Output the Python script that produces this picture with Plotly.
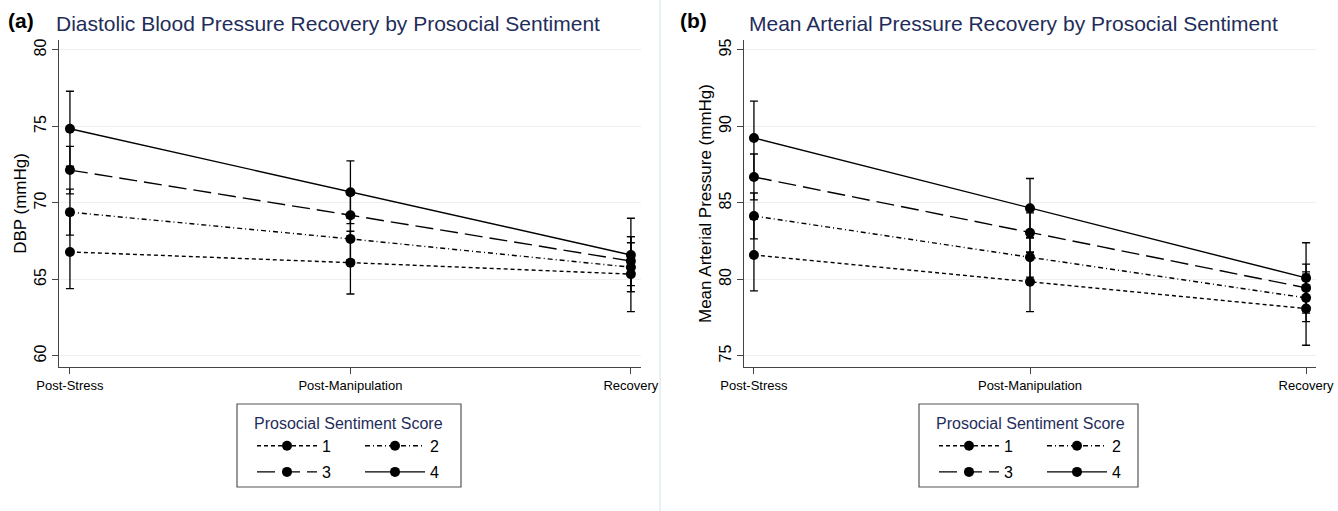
import plotly.graph_objects as go

# ---------------- data ----------------
categories = ["Post-Stress", "Post-Manipulation", "Recovery"]
scores = ["1", "2", "3", "4"]

# Panel (a): Diastolic blood pressure (mmHg)
dbp_s1 = [66.8, 66.1, 65.35]
dbp_s2 = [69.4, 67.65, 65.8]
dbp_s3 = [72.15, 69.2, 66.2]
dbp_s4 = [74.85, 70.7, 66.6]
dbp_ci_s1 = [2.4, 2.05, 2.45]
dbp_ci_s2 = [1.5, 1.35, 1.6]
dbp_ci_s3 = [1.55, 1.35, 1.6]
dbp_ci_s4 = [2.45, 2.05, 2.4]

# Panel (b): Mean arterial pressure (mmHg)
map_s1 = [81.6, 79.85, 78.1]
map_s2 = [84.15, 81.45, 78.8]
map_s3 = [86.7, 83.05, 79.45]
map_s4 = [89.25, 84.65, 80.1]
map_ci_s1 = [2.35, 1.95, 2.4]
map_ci_s2 = [1.5, 1.3, 1.55]
map_ci_s3 = [1.5, 1.3, 1.55]
map_ci_s4 = [2.4, 1.95, 2.3]

dbp_ticks = [60, 65, 70, 75, 80]
map_ticks = [75, 80, 85, 90, 95]

# ---------------- style ----------------
FONT = "Liberation Sans, Arial, Helvetica, sans-serif"
NAVY = "#1f2d5a"
AXIS = "#444444"
dashes = ["4px,3px", "5px,3px,1px,3px", "18px,7px", "solid"]

W, H = 1338, 511
xpos = list(range(len(categories)))

fig = go.Figure()

panels = [
    dict(means=[dbp_s1, dbp_s2, dbp_s3, dbp_s4],
         cis=[dbp_ci_s1, dbp_ci_s2, dbp_ci_s3, dbp_ci_s4],
         xa="x", ya="y", legends=["legend", "legend", "legend2", "legend2"]),
    dict(means=[map_s1, map_s2, map_s3, map_s4],
         cis=[map_ci_s1, map_ci_s2, map_ci_s3, map_ci_s4],
         xa="x2", ya="y2", legends=["legend3", "legend3", "legend4", "legend4"]),
]

for p in panels:
    for i, (m, c) in enumerate(zip(p["means"], p["cis"])):
        fig.add_trace(go.Scatter(
            x=xpos, y=m, mode="lines+markers", name=scores[i],
            xaxis=p["xa"], yaxis=p["ya"], legend=p["legends"][i],
            line=dict(color="black", width=1.4, dash=dashes[i]),
            marker=dict(color="black", size=10),
            error_y=dict(type="data", array=c, visible=True,
                         color="black", thickness=1.3, width=4),
        ))

def px_x(v):
    return v / W

def px_y(v):
    return 1 - v / H

ydom = [px_y(367), px_y(40)]

common_x = dict(
    tickmode="array", tickvals=xpos, ticktext=categories, automargin=False,
    showgrid=False, zeroline=False, showline=True, linecolor=AXIS, linewidth=1.2,
    ticks="outside", ticklen=6, tickcolor=AXIS,
    tickfont=dict(family=FONT, size=13, color="black"),
)
common_y = dict(
    tickmode="array", showgrid=True, gridcolor="#efefef", gridwidth=1, automargin=False,
    zeroline=False, showline=True, linecolor=AXIS, linewidth=1.2,
    ticks="outside", ticklen=6, tickcolor=AXIS, tickangle=-90,
    tickfont=dict(family=FONT, size=16, color="black"),
)

fig.update_layout(
    width=W, height=H,
    margin=dict(l=0, r=0, t=0, b=0, autoexpand=False),
    paper_bgcolor="white", plot_bgcolor="white",
    font=dict(family=FONT, color="black"),
    xaxis=dict(domain=[px_x(59), px_x(641)], range=[-0.039, 2.036], anchor="y", **common_x),
    yaxis=dict(domain=ydom, range=[59.28, 80.65], anchor="x", tickvals=dbp_ticks,
               title=dict(text="DBP (mmHg)", font=dict(family=FONT, size=17), standoff=0),
               **common_y),
    xaxis2=dict(domain=[px_x(744), px_x(1316)], range=[-0.036, 2.036], anchor="y2", **common_x),
    yaxis2=dict(domain=ydom, range=[74.28, 95.65], anchor="x2", tickvals=map_ticks,
                title=dict(text="Mean Arterial Pressure (mmHg)", font=dict(family=FONT, size=17), standoff=0),
                **common_y),
    showlegend=True,
)

leg_common = dict(orientation="h", bgcolor="rgba(0,0,0,0)", borderwidth=0,
                  font=dict(family=FONT, size=16, color="black"),
                  itemwidth=60, entrywidth=33, entrywidthmode="pixels",
                  xanchor="left", yanchor="top", tracegroupgap=0,
                  itemclick=False, itemdoubleclick=False)
ttl = dict(text="Prosocial Sentiment Score", side="top", font=dict(family=FONT, size=16, color=NAVY))

fig.update_layout(
    legend=dict(x=px_x(252), y=px_y(408), title=ttl, **leg_common),
    legend2=dict(x=px_x(252), y=px_y(455), **leg_common),
    legend3=dict(x=px_x(934), y=px_y(408), title=ttl, **leg_common),
    legend4=dict(x=px_x(934), y=px_y(455), **leg_common),
)

# legend boxes
for x0, x1 in [(237, 461), (919, 1138)]:
    fig.add_shape(type="rect", xref="paper", yref="paper",
                  x0=px_x(x0), x1=px_x(x1), y0=px_y(487), y1=px_y(404),
                  line=dict(color="#555555", width=1.2), fillcolor="rgba(0,0,0,0)")

# faint panel separator
fig.add_shape(type="line", xref="paper", yref="paper", x0=px_x(660), x1=px_x(660), y0=0, y1=1,
              line=dict(color="#e3ecee", width=1.5))

# titles
titles = [("(a)", 6, "Diastolic Blood Pressure Recovery by Prosocial Sentiment", 54),
          ("(b)", 678, "Mean Arterial Pressure Recovery by Prosocial Sentiment", 747)]
for lab, lx, txt, tx in titles:
    fig.add_annotation(xref="paper", yref="paper", x=px_x(lx), y=px_y(21), xanchor="left", yanchor="middle",
                       text="<b>" + lab + "</b>", showarrow=False,
                       font=dict(family=FONT, size=21, color="black"))
    fig.add_annotation(xref="paper", yref="paper", x=px_x(tx), y=px_y(23), xanchor="left", yanchor="middle",
                       text=txt, showarrow=False,
                       font=dict(family=FONT, size=21, color=NAVY))

fig.write_html("out.html")
